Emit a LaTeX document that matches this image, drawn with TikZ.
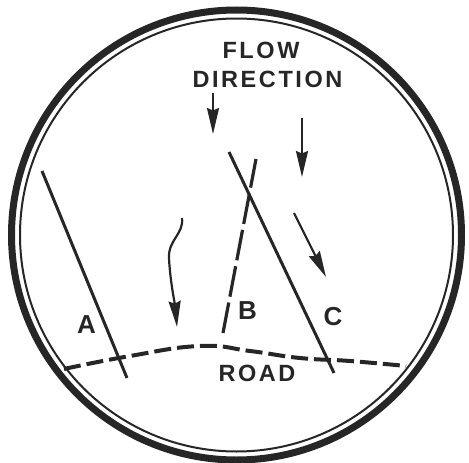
\documentclass[tikz,border=0pt]{standalone}
\usepackage{fontspec}
\setmainfont{Liberation Sans}
\usepackage{tikz}
\usetikzlibrary{arrows.meta}
\definecolor{cink}{HTML}{262626}
\tikzset{
  ring/.style={draw=cink, line width=7pt},
  thinring/.style={draw=cink, line width=2pt},
  trace/.style={draw=cink, line width=3pt},
  dtrace/.style={trace, line width=3.2pt, dash pattern=on 31pt off 6pt},
  roadline/.style={draw=cink, line width=4pt, dash pattern=on 17pt off 6pt},
  flowarr/.style={draw=cink, line width=2.2pt, -{Stealth[length=26pt,width=12pt,inset=2.5pt]}},
  lbl/.style={text=cink, inner sep=0pt, font=\bfseries\fontsize{26}{28}\selectfont\addfontfeatures{LetterSpace=6}},
  ttl/.style={text=cink, inner sep=0pt, font=\bfseries\fontsize{23.5}{26}\selectfont\addfontfeatures{LetterSpace=11}},
}

\begin{document}
\begin{tikzpicture}[x=1pt,y=-1pt]
\useasboundingbox (0,0) rectangle (469,463);
\coordinate (ctr) at (236.5,235);
\draw[ring] (ctr) circle[radius=225pt];
\draw[thinring] (ctr) circle[radius=216.5pt];
\node[ttl] (flow) at (261,50) {FLOW};
\node[ttl] (dir) at (267.5,79) {DIRECTION};
\coordinate (a1) at (42,171);  \coordinate (a2) at (127,378);
\coordinate (b1) at (223,333); \coordinate (b2) at (256,159);
\coordinate (c1) at (229,152); \coordinate (c2) at (334,373);
\draw[trace] (a1) -- (a2);
\draw[trace] (c1) -- (c2);
\draw[dtrace] (b1) -- (b2);
\draw[roadline] plot[smooth, tension=0.8] coordinates {(64,369) (130,356) (200,346) (250,351) (300,358) (350,361) (406,366)};
\draw[flowarr] (213,93) -- (213,134);
\draw[flowarr] (302,118) -- (302,177);
\draw[flowarr] (294,213) -- (326,277);
\draw[flowarr] (182,218) .. controls (184,234) and (168,240) .. (169,258) .. controls (170,280) and (175,305) .. (177,327);
\node[lbl] (la) at (86.5,324.5) {A};
\node[lbl] (lb) at (247.5,311) {B};
\node[lbl] (lc) at (333,316.5) {C};
\node[ttl] (road) at (257,373.5) {ROAD};
\end{tikzpicture}
\end{document}
